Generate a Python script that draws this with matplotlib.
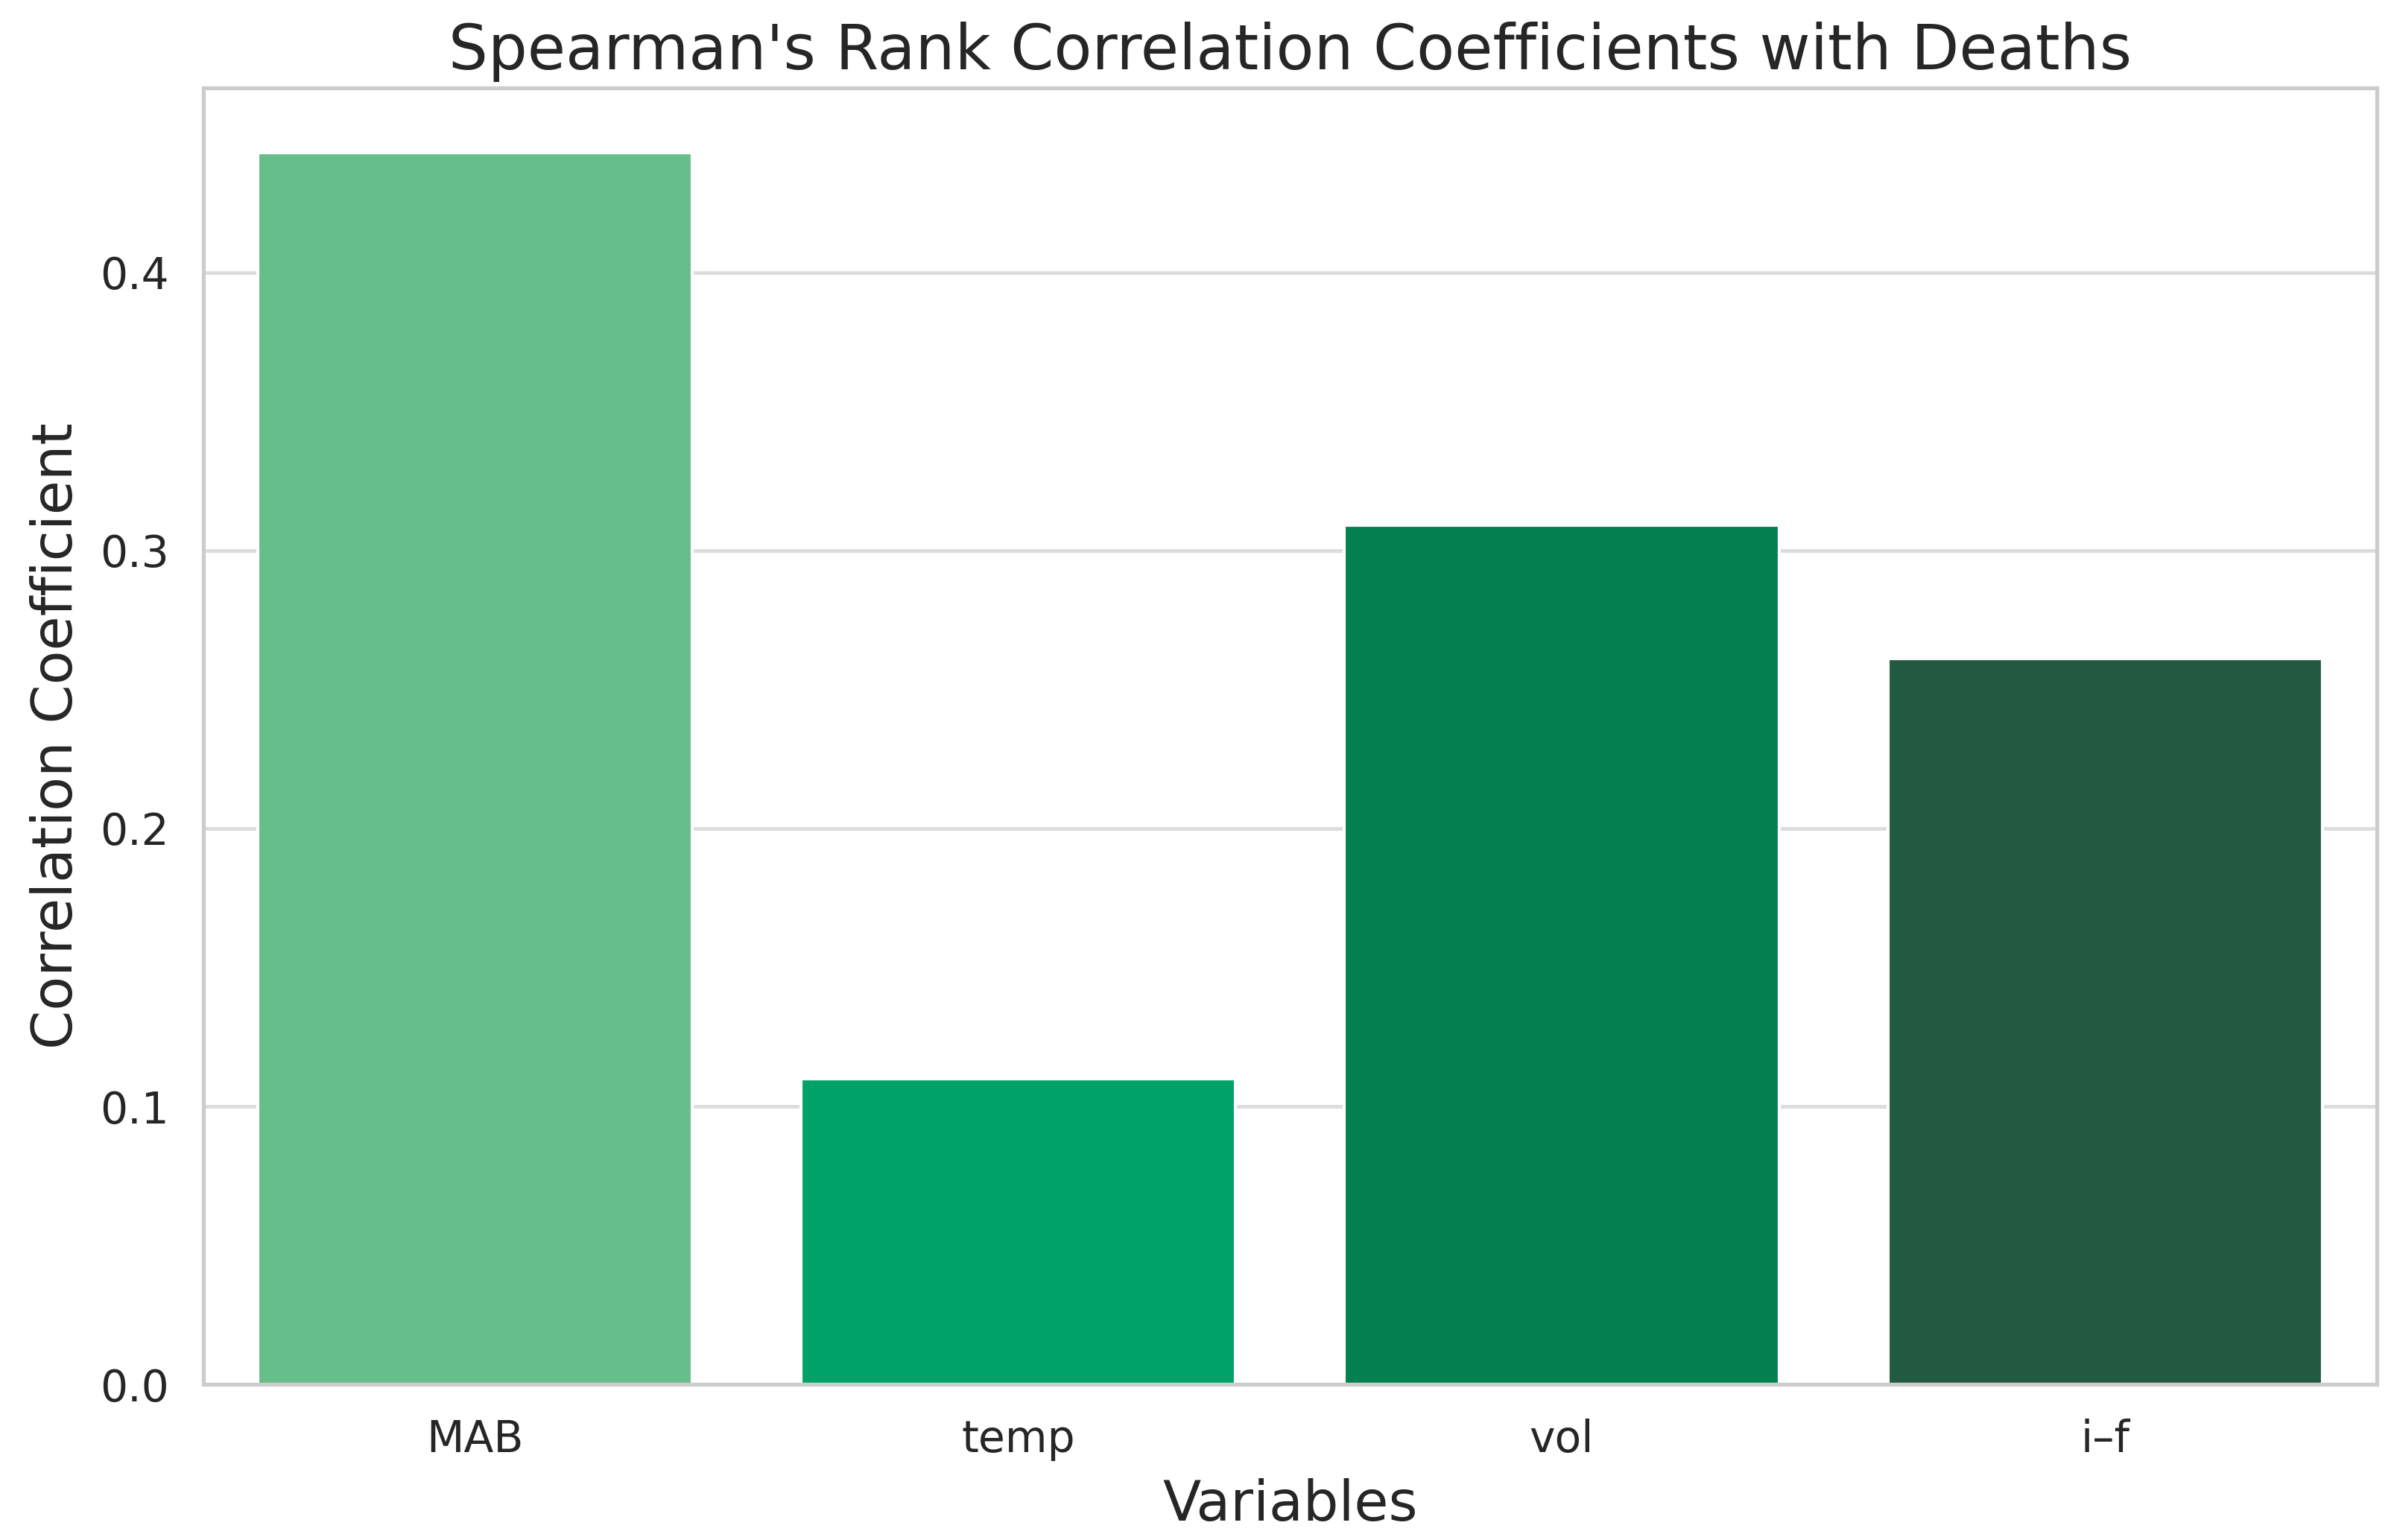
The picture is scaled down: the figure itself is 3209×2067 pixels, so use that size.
import numpy as np
import matplotlib
matplotlib.use("Agg")
import matplotlib.pyplot as plt
import seaborn as sns

# data
variables = ["MAB", "temp", "vol", "i\u2013f"]
coefficients = [0.443, 0.110, 0.309, 0.261]
bar_colors = ["#66BE8A", "#00A268", "#02804F", "#215A41"]

sns.set_theme(style="whitegrid")
plt.rcParams['font.family'] = ['DejaVu Sans']

fig, ax = plt.subplots(figsize=(10.697, 6.89), dpi=300)

x = np.arange(len(variables))
ax.bar(x, coefficients, width=0.8, color=bar_colors, zorder=2)
ax.set_xticks(x)
ax.set_xticklabels(variables, fontsize=14)
ax.tick_params(axis='both', pad=5)
ax.tick_params(axis='y', labelsize=14)
ax.set_xlim(-0.5, 3.5)
ax.set_ylim(0, 0.4664)
ax.set_yticks([0.0, 0.1, 0.2, 0.3, 0.4])
ax.xaxis.grid(False)
ax.yaxis.grid(True, color="#dddddd", linewidth=1.2)
ax.set_axisbelow(True)

ax.set_xlabel('Variables', fontsize=18, labelpad=5.5)
ax.set_ylabel('Correlation Coefficient', fontsize=18, labelpad=5)
ax.set_title("Spearman's Rank Correlation Coefficients with Deaths", fontsize=20)

plt.subplots_adjust(left=0.085, right=0.994, top=0.943, bottom=0.101)
plt.savefig('out.png', dpi=300)
